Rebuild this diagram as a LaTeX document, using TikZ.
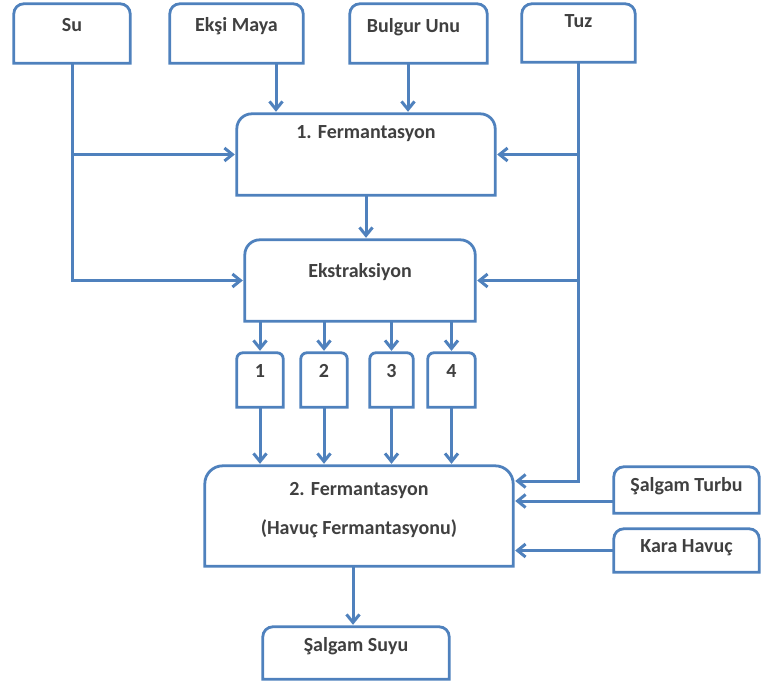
\documentclass[tikz,border=0pt]{standalone}
\usepackage{fontspec}
\setmainfont{Carlito}
\usetikzlibrary{arrows.meta,positioning}

\definecolor{boxblue}{HTML}{4F81BD}
\definecolor{txtgray}{HTML}{404040}

\tikzset{
  box/.style 2 args={minimum width=#1pt, minimum height=#2pt, inner sep=0pt},
  txt/.style={anchor=base, inner sep=0pt, text=txtgray, font=\fontsize{20}{24}\selectfont\bfseries},
  line/.style={draw=boxblue, line width=3pt},
  arr/.style={line, -{Straight Barb[length=8pt,width=13pt]}, shorten >=2pt},
}

\begin{document}
\begin{tikzpicture}[x=1pt,y=-1pt]
  \useasboundingbox (0,0) rectangle (761,686);
  % inputs
  \node[box={116}{59}] (su) at (72,33.5) {};
  \node[box={133}{59}] (maya) at (236.5,33.5) {};
  \node[box={137}{59}] (bulgur) at (418.5,33.5) {};
  \node[box={113}{58}] (tuz) at (578.5,33) {};
  % process
  \node[box={258}{81}] (fa) at (366,154.5) {};
  \node[box={230}{81}] (ek) at (360,280.5) {};
  \node[box={46}{54}] (b1) at (260,380) {};
  \node[box={46}{54}] (b2) at (324,380) {};
  \node[box={43}{54}] (b3) at (391.5,380) {};
  \node[box={47}{54}] (b4) at (451.5,380) {};
  \node[box={308}{100}] (fb) at (359,516) {};
  \node[box={145}{46}] (turbu) at (686.5,490) {};
  \node[box={145}{43}] (havuc) at (686.5,550.5) {};
  \node[box={186}{52}] (suyu) at (356,653) {};

  \foreach \n/\r in {su/10,maya/10,bulgur/10,tuz/10,fa/15,ek/15,b1/6,b2/6,b3/6,b4/6,fb/18,turbu/10,havuc/10,suyu/10}
    \draw[line, line width=2.8pt] (\n.south west) [rounded corners=\r pt] -- (\n.north west) -- (\n.north east) [sharp corners] -- (\n.south east) -- cycle;

  % texts
  \node[txt] (su-t) at ([yshift=-28pt]su.north) {Su};
  \node[txt] (maya-t) at ([yshift=-28pt]maya.north) {Ekşi Maya};
  \node[txt] (bulgur-t) at ([yshift=-29pt,xshift=-5pt]bulgur.north) {Bulgur Unu};
  \node[txt] (tuz-t) at ([yshift=-24pt]tuz.north) {Tuz};
  \node[txt] (fa-t) at ([yshift=-25pt]fa.north) {1. Fermantasyon};
  \node[txt] (ek-t) at ([yshift=-38pt]ek.north) {Ekstraksiyon};
  \foreach \i in {1,...,4}
    \node[txt] (b\i-t) at ([yshift=-25pt]b\i.north) {\i};
  \node[txt] (fb-t) at ([yshift=-30pt]fb.north) {2. Fermantasyon};
  \node[txt] (fb-t2) at ([yshift=-69pt]fb.north) {(Havuç Fermantasyonu)};
  \node[txt] (turbu-t) at ([yshift=-25pt]turbu.north) {Şalgam Turbu};
  \node[txt] (havuc-t) at ([yshift=-24pt]havuc.north) {Kara Havuç};
  \node[txt] (suyu-t) at ([yshift=-25pt]suyu.north) {Şalgam Suyu};

  % connectors
  \draw[arr] ([xshift=39.5pt]maya.south) -- ([xshift=39.5pt]maya.south |- fa.north);
  \draw[arr] ([xshift=-10.5pt]bulgur.south) -- ([xshift=-10.5pt]bulgur.south |- fa.north);
  \draw[arr] (su.south) |- (ek.west);
  \draw[arr] (su.south |- fa.west) -- (fa.west);
  \draw[arr] (tuz.south) |- ([yshift=35pt]fb.east);
  \draw[arr] (tuz.south |- fa.east) -- (fa.east);
  \draw[arr] (tuz.south |- ek.east) -- (ek.east);
  \draw[arr] (fa.south) -- (fa.south |- ek.north);
  \foreach \i in {1,...,4} {
    \draw[arr] (ek.south -| b\i) -- (b\i.north);
    \draw[arr] (b\i.south) -- (b\i.south |- fb.north);
  }
  \draw[arr] ([yshift=-11pt]turbu.west) -- ([yshift=-11pt]turbu.west -| fb.east);
  \draw[arr] (havuc.west) -- (havuc.west -| fb.east);
  \draw[arr] ([xshift=-6pt]fb.south) -- ([xshift=-6pt]fb.south |- suyu.north);
\end{tikzpicture}
\end{document}
